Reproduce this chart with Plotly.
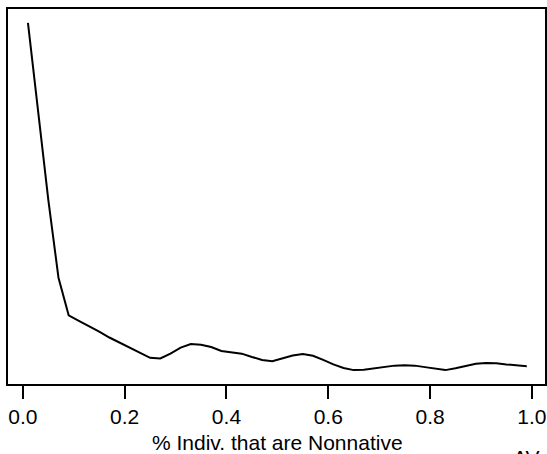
import plotly.graph_objects as go

# share of individuals that are nonnative (x) and density estimate (y)
x_vals = [0.01, 0.03, 0.05, 0.07, 0.09, 0.11, 0.13, 0.15, 0.17, 0.19,
          0.21, 0.23, 0.25, 0.27, 0.29, 0.31, 0.33, 0.35, 0.37, 0.39,
          0.41, 0.43, 0.45, 0.47, 0.49, 0.51, 0.53, 0.55, 0.57, 0.59,
          0.61, 0.63, 0.65, 0.67, 0.69, 0.71, 0.73, 0.75, 0.77, 0.79,
          0.81, 0.83, 0.85, 0.87, 0.89, 0.91, 0.93, 0.95, 0.97, 0.99]
y_vals = [12.09, 9.10, 6.17, 3.57, 2.31, 2.13, 1.96, 1.77, 1.57, 1.40,
          1.23, 1.07, 0.89, 0.87, 1.03, 1.23, 1.35, 1.33, 1.25, 1.12,
          1.07, 1.03, 0.92, 0.82, 0.78, 0.87, 0.97, 1.02, 0.96, 0.82,
          0.67, 0.55, 0.48, 0.49, 0.54, 0.60, 0.63, 0.64, 0.63, 0.58,
          0.52, 0.48, 0.54, 0.62, 0.69, 0.72, 0.71, 0.67, 0.63, 0.61]
x_ticks = [0.0, 0.2, 0.4, 0.6, 0.8, 1.0]
x_label = "% Indiv. that are Nonnative"
corner_label = "AV"

FONT = "Liberation Sans, Arial, sans-serif"

# R-style 4% padding on each side
y_lo, y_hi = min(y_vals), max(y_vals)
y_pad = 0.04 * (y_hi - y_lo)
x_pad = 0.04 * (max(x_vals) - min(x_vals))

fig = go.Figure()
fig.add_trace(go.Scatter(x=x_vals, y=y_vals, mode="lines",
                         line=dict(color="black", width=2),
                         showlegend=False, hoverinfo="skip"))

fig.update_layout(
    width=547, height=454,
    margin=dict(l=8, r=0, t=9, b=70),
    paper_bgcolor="white", plot_bgcolor="white",
    font=dict(family=FONT, color="black", size=21),
    xaxis=dict(range=[min(x_vals) - x_pad, 1.0258],
               tickvals=x_ticks, ticktext=[f"{v:.1f}" for v in x_ticks],
               ticks="outside", ticklen=13, tickwidth=2, tickcolor="black",
               showline=True, linewidth=2, linecolor="black", mirror=True,
               showgrid=False, zeroline=False,
               tickfont=dict(size=21, family=FONT)),
    yaxis=dict(range=[y_lo - y_pad, y_hi + y_pad],
               showticklabels=False, ticks="",
               showline=True, linewidth=2, linecolor="black", mirror=True,
               showgrid=False, zeroline=False),
    annotations=[
        dict(text=x_label, x=0.5, xref="x", y=-0.12, yref="paper",
             xanchor="center", yanchor="top", showarrow=False,
             font=dict(size=21, family=FONT)),
        dict(text=corner_label, x=0.937, xref="paper", y=-0.16, yref="paper",
             xanchor="left", yanchor="top", showarrow=False,
             font=dict(size=21, family=FONT)),
    ],
)

# page body has an 8px default margin; drop it so the figure fills the window
fig.write_html("out.html",
               config={"displayModeBar": False},
               post_script="document.body.style.margin='0';"
                           "document.body.style.overflow='hidden';")
